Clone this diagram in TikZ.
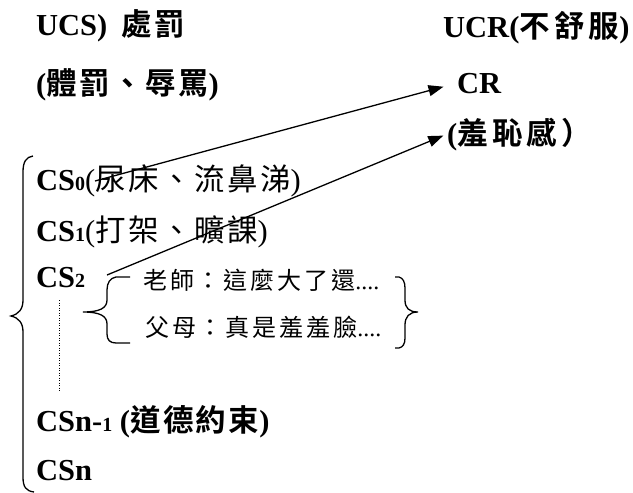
\documentclass[tikz,border=0pt]{standalone}
\usepackage{fontspec}
\setmainfont{Liberation Serif}
\newfontfamily\cjk{Noto Sans CJK TC}[BoldFont={Noto Sans CJK TC Bold}, LetterSpace=8]
\newfontfamily\cjkh{Noto Sans CJK TC}[BoldFont={Noto Sans CJK TC Bold}, LetterSpace=14]
\newfontfamily\cjki{Noto Sans CJK TC}[LetterSpace=12]
\usetikzlibrary{arrows.meta}
\newcommand{\bigfs}{\fontsize{30.5}{36}\selectfont}
\newcommand{\smlfs}{\fontsize{20}{24}\selectfont}
\newcommand{\innfs}{\fontsize{24}{28}\selectfont}
\tikzset{
  txt/.style={anchor=base west, inner sep=0pt, font=\bigfs},
  arr/.style={line width=1.3pt, -{Triangle[length=15pt,width=11pt]}},
  brace/.style={line width=1.3pt},
}
\begin{document}
\begin{tikzpicture}[x=1pt,y=-1pt]
\useasboundingbox (0,0) rectangle (633,493);
% headings
\node[txt] (ucs) at (36,35) {\bfseries UCS)\hspace{14pt}{\cjk 處罰}};
\node[txt] (ucr) at (443,37) {\bfseries UCR({\cjkh 不舒服})};
\node[txt] (pun) at (36,94) {\bfseries ({\cjk 體罰、辱罵})};
\node[txt] (cr) at (457,93) {\bfseries CR};
\node[txt] (sh) at (447,144) {\bfseries ({\cjkh 羞恥感）}};
% items
\node[txt] (cs0) at (36,190) {{\bfseries CS{\smlfs 0}}({\cjk 尿床、流鼻涕})};
\node[txt] (cs1) at (36,241) {{\bfseries CS{\smlfs 1}}({\cjk 打架、曠課})};
\node[txt] (cs2) at (36,287) {\bfseries CS{\smlfs 2}};
\node[txt, font=\innfs] (tch) at (143,289) {{\cjki 老師：這麼大了還}....};
\node[txt, font=\innfs] (par) at (145,336) {{\cjki 父母：真是羞羞臉}....};
\node[txt] (csn1) at (36,431) {\bfseries CSn-{\smlfs 1} ({\cjk 道德約束})};
\node[txt] (csn) at (36,480) {\bfseries CSn};
% arrows
\coordinate (t0) at (95,181);
\coordinate (t2) at (107,275);
\draw[arr, shorten >=14pt] (t0) -- (cr.west);
\draw[arr, shorten >=4pt] (t2) -- (sh.west);
% dotted line
\draw[line width=1pt, dash pattern=on 1pt off 1.5pt] (59,300) -- (59,392);
% big brace
\draw[brace] (33,156) .. controls (26,157) and (23,162) .. (23,172) -- (23,300)
  .. controls (23,309) and (19,314) .. (11,316)
  .. controls (19,318) and (23,323) .. (23,332) -- (23,477)
  .. controls (23,487) and (26,491) .. (34,492);
% inner left brace
\draw[brace] (130,277) -- (116,277) .. controls (110,278) and (107,283) .. (107,290) -- (107,300)
  .. controls (107,308) and (100,312) .. (83,312)
  .. controls (100,312) and (107,316) .. (107,324) -- (107,334)
  .. controls (107,340) and (110,343) .. (116,343) -- (130,343);
% inner right brace
\draw[brace] (395,277) -- (399,277) .. controls (403,278) and (405,282) .. (405,288) -- (405,300)
  .. controls (405,308) and (409,312) .. (418,312)
  .. controls (409,312) and (405,317) .. (405,325) -- (405,338)
  .. controls (405,344) and (403,347) .. (399,348) -- (395,348);
\end{tikzpicture}
\end{document}
